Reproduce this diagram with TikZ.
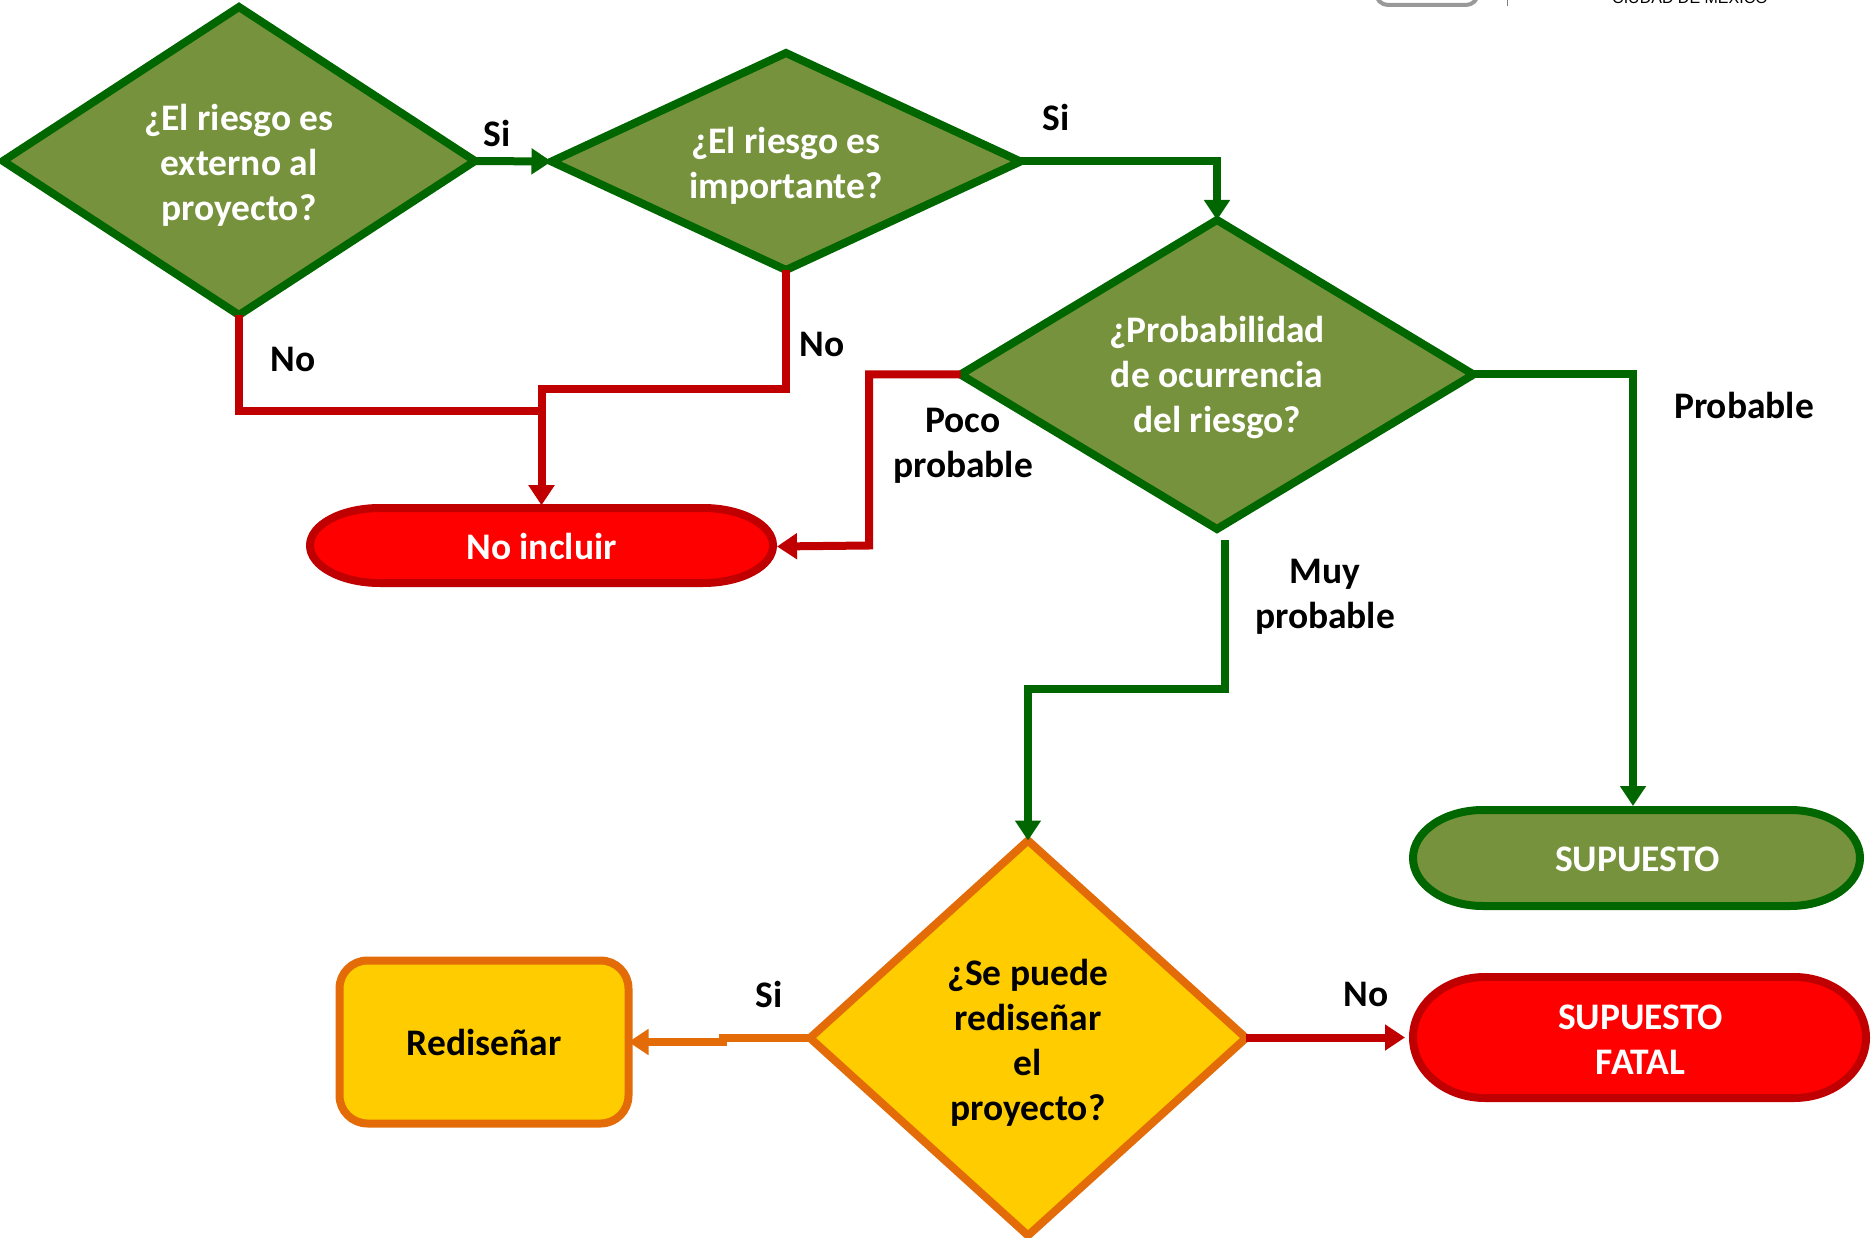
\documentclass[tikz,border=0pt]{standalone}
\usepackage{fontspec}
\setmainfont{Carlito}
\newfontfamily\logofont{Liberation Sans}
\usetikzlibrary{shapes.geometric}
\usetikzlibrary{arrows.meta}
\usetikzlibrary{scopes}
\definecolor{leafgreen}{HTML}{76923C}
\definecolor{darkleaf}{HTML}{006600}
\definecolor{darkred}{HTML}{C00000}
\definecolor{amber}{HTML}{FFCC00}
\definecolor{burnt}{HTML}{E36C09}
\newcommand{\firstline}[1]{\rule{0pt}{#1pt}}
\newcommand{\pillpath}[5]{
    \draw[#1,shift={#2}] (-#3pt,#4pt)
        arc[start angle=90,end angle=270,x radius=#5pt,y radius=#4pt] -- (#3pt,-#4pt)
        arc[start angle=270,end angle=450,x radius=#5pt,y radius=#4pt] -- cycle;
}
\tikzset{
    label text/.style={font=\fontsize{37.5}{45}\selectfont\bfseries,align=center,inner sep=0pt,outer sep=0pt},
    question/.style={diamond,label text,line width=8pt,text=white,draw=darkleaf,fill=leafgreen},
    redo question/.style={question,text=black,draw=burnt,fill=amber},
    pill red/.style={line width=8pt,draw=darkred,fill=red},
    pill green/.style={line width=8pt,draw=darkleaf,fill=leafgreen},
    end text/.style={rectangle,label text,text=white},
    redo box/.style={rectangle,rounded corners=28pt,label text,line width=8pt,draw=burnt,fill=amber},
    flow/.style={line width=8pt,-{Triangle[length=20pt,width=25pt]}},
    flow green/.style={flow,darkleaf},
    flow red/.style={flow,darkred},
    flow orange/.style={flow,burnt},
}
\begin{document}
\begin{tikzpicture}[x=1pt,y=-1pt]
    \useasboundingbox (0,0) rectangle (1872,1238);
    { []
        \draw[line width=4pt,black!40,rounded corners=12pt] (1376,-40) rectangle (1478,5);
        \draw[line width=1pt,black!50] (1507,0) -- (1507,6);
        \node[font=\logofont\fontsize{16}{16}\selectfont,inner sep=0pt] (nLogo) at (1690,-3) {CIUDAD DE MÉXICO};
    }

    \node[question,aspect=1.5,minimum width=472pt,minimum height=308pt] (qExterno) at (239,161)
        {\firstline{34}¿El riesgo es\\externo al\\proyecto?};
    \node[question,aspect=2,minimum width=469pt,minimum height=217pt] (qImportante) at (786,161.5)
        {\firstline{35}¿El riesgo es\\importante?};
    \node[question,aspect=1.5,minimum width=513pt,minimum height=309pt] (qProbabilidad) at (1217,374.5)
        {\firstline{33}¿Probabilidad\\de ocurrencia\\del riesgo?};
    \node[redo question,aspect=1,minimum width=436pt,minimum height=395pt] (qRediseno) at (1028,1038)
        {\firstline{36}¿Se puede\\rediseñar\\el\\proyecto?};

    \pillpath{pill red}{(541.5,545.5)}{161.5}{37.5}{70}
    \pillpath{pill green}{(1636.5,858)}{153.5}{48}{70}
    \pillpath{pill red}{(1639.5,1037.5)}{154.5}{60.5}{72}
    \node[end text,minimum width=471pt,minimum height=83pt] (nNoIncluir) at (541.5,546.5) {No incluir};
    \node[end text,minimum width=455pt,minimum height=104pt] (nSupuesto) at (1637.5,859) {SUPUESTO};
    \node[end text,minimum width=461pt,minimum height=129pt] (nFatal) at (1640.5,1037.5) {\firstline{29}SUPUESTO\\FATAL};
    \node[redo box,minimum width=289pt,minimum height=163pt] (nRedisenar) at (484,1042) {Rediseñar};

    \draw
        [flow green] (qExterno.east) -- (qImportante.west);
    \draw
        [flow green] (qImportante.east) -| (qProbabilidad.north);
    \draw
        [flow red] (qExterno.south) |- (541.5,411) -- (nNoIncluir.north);
    \draw
        [flow red] (qImportante.south) |- (541.5,389) -- (nNoIncluir.north);
    \draw
        [flow red] (qProbabilidad.west) -| (869,545.5) -- (nNoIncluir.east);
    \draw
        [flow green,shorten >=1pt] (qProbabilidad.east) -| ([xshift=-4.5pt]nSupuesto.north);
    \draw
        [flow green] ([xshift=8pt,yshift=-11pt]qProbabilidad.south) |- (1028,689) -- (qRediseno.north);
    \draw
        [flow orange] (qRediseno.west) -- ++(-87,0) |- (nRedisenar.east);
    \draw
        [flow red,shorten >=5pt] (qRediseno.east) -- ++(78,0) |- (nFatal.west);

    \node[label text] (lSiExterno) at (497,133) {Si};
    \node[label text] (lSiImportante) at (1056,117) {Si};
    \node[label text] (lNoExterno) at (293,359.5) {No};
    \node[label text] (lNoImportante) at (822,344.5) {No};
    \node[label text] (lPoco) at (963,446) {Poco\\probable};
    \node[label text] (lMuy) at (1325,597) {Muy\\probable};
    \node[label text] (lProbable) at (1744,405) {Probable};
    \node[label text] (lSiRediseno) at (769,994) {Si};
    \node[label text] (lNoRediseno) at (1366,994) {No};
\end{tikzpicture}
\end{document}
